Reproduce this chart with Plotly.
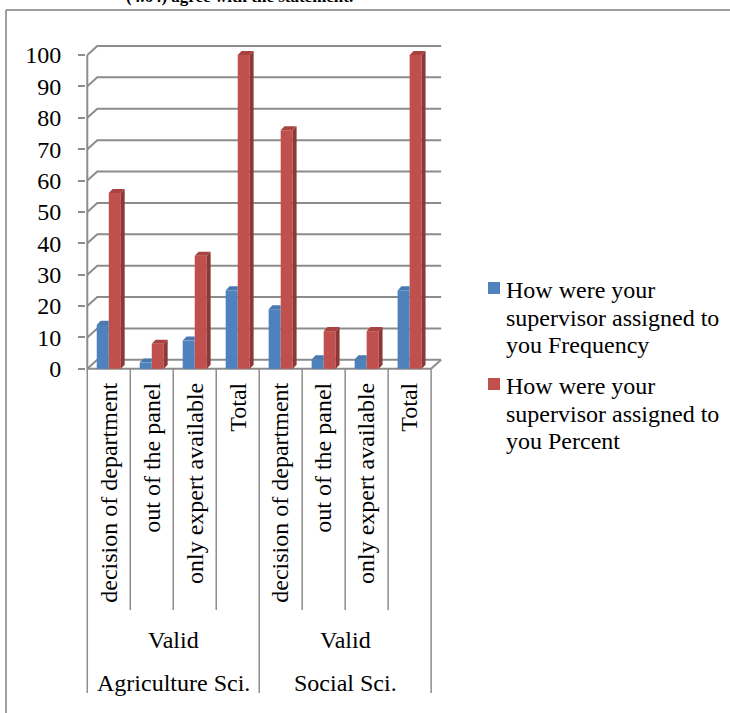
import plotly.graph_objects as go

# ---- data -------------------------------------------------------------
groups = ["Agriculture Sci.", "Social Sci."]
sub_group = "Valid"
categories = ["decision of department", "out of the panel", "only expert available", "Total",
              "decision of department", "out of the panel", "only expert available", "Total"]
frequency = [14, 2, 9, 25, 19, 3, 3, 25]
percent = [56, 8, 36, 100, 76, 12, 12, 100]
y_ticks = [0, 10, 20, 30, 40, 50, 60, 70, 80, 90, 100]
series_names = [["How were your", "supervisor assigned to", "you Frequency"],
                ["How were your", "supervisor assigned to", "you Percent"]]
title_text = "(4.64) agree with the statement."

# ---- styling ----------------------------------------------------------
FONT = "Liberation Serif, Times New Roman, serif"
GRID = "#8c8c8c"
front_colors = ["#4F81BD", "#C0504D"]
side_colors = ["#385D8A", "#8C3836"]
top_colors = ["#4A78B0", "#A9433F"]

W, H = 730, 713
ML, MR, MT, MB = 86, 288, 44, 341
PW, PH = W - ML - MR, H - MT - MB

n = len(categories)
wall_dx, wall_dy = 0.233, 2.87       # depth of the back wall (data units)
bar_dx, bar_dy = 0.09, 1.3            # depth of each bar
x_range = [-0.53, n - 0.5 + wall_dx + 0.02]
y_range = [-1, 103.5]
bargap = 0.44
bar_w = (1 - bargap) / 2


def px_x(px):
    return (px - ML) / PW


def px_y(py):
    return (H - MB - py) / PH


def xpaper(xd):
    return (xd - x_range[0]) / (x_range[1] - x_range[0])


xs = list(range(n))
fig = go.Figure()
for k, (vals, name) in enumerate(zip([frequency, percent], series_names)):
    fig.add_trace(go.Bar(
        x=xs, y=vals, name=" ".join(name),
        marker=dict(color=front_colors[k], line=dict(width=0)),
    ))

shapes = []
# back wall gridlines with the diagonal run from the front axis
for v in y_ticks:
    shapes.append(dict(
        type="path", xref="x", yref="y", layer="below",
        path=f"M {-0.5},{v} L {-0.5 + wall_dx},{v + wall_dy} L {n - 0.5 + wall_dx},{v + wall_dy}",
        line=dict(color=GRID, width=2),
    ))
# front axis line and floor edges
shapes.append(dict(type="line", xref="x", yref="y", layer="below",
                   x0=-0.5, y0=0, x1=-0.5, y1=100, line=dict(color=GRID, width=2)))
shapes.append(dict(type="line", xref="x", yref="y", layer="below",
                   x0=-0.5, y0=0, x1=n - 0.5, y1=0, line=dict(color=GRID, width=2)))
shapes.append(dict(type="line", xref="x", yref="y", layer="below",
                   x0=n - 0.5, y0=0, x1=n - 0.5 + wall_dx, y1=wall_dy, line=dict(color=GRID, width=2)))

# 3D side and top faces of the bars
for k, vals in enumerate([frequency, percent]):
    off = (k - 0.5) * bar_w
    for i, v in enumerate(vals):
        xl = i + off - bar_w / 2
        xr = i + off + bar_w / 2
        if k == 1:
            shapes.append(dict(
                type="path", xref="x", yref="y", layer="above",
                path=f"M {xr},{0} L {xr + bar_dx},{bar_dy} L {xr + bar_dx},{v + bar_dy} L {xr},{v} Z",
                fillcolor=side_colors[k], line=dict(width=0)))
            shapes.append(dict(
                type="path", xref="x", yref="y", layer="above",
                path=f"M {xl},{v} L {xl + bar_dx},{v + bar_dy} L {xr + bar_dx},{v + bar_dy} L {xr},{v} Z",
                fillcolor=top_colors[k], line=dict(width=0)))
        else:
            shapes.append(dict(
                type="path", xref="x", yref="y", layer="above",
                path=f"M {xl},{v} L {xl + bar_dx},{v + bar_dy} L {xr},{v + bar_dy} L {xr},{v} Z",
                fillcolor=top_colors[k], line=dict(width=0)))

# category table dividers below the axis
y_top = (0 - y_range[0]) / (y_range[1] - y_range[0])
for b in range(n + 1):
    is_group = b % 4 == 0
    shapes.append(dict(
        type="line", xref="paper", yref="paper",
        x0=xpaper(b - 0.5), x1=xpaper(b - 0.5),
        y0=y_top, y1=px_y(693) if is_group else px_y(610),
        line=dict(color=GRID, width=1.5)))

# outer frame
shapes.append(dict(type="line", xref="paper", yref="paper",
                   x0=px_x(6), y0=px_y(10), x1=px_x(6), y1=px_y(H + 5),
                   line=dict(color="#7f7f7f", width=1.5)))
shapes.append(dict(type="line", xref="paper", yref="paper",
                   x0=px_x(6), y0=px_y(10), x1=px_x(W + 5), y1=px_y(10),
                   line=dict(color="#7f7f7f", width=1.5)))

annotations = []
for g, name in enumerate(groups):
    xc = g * 4 + 1.5
    annotations.append(dict(x=xc, y=px_y(640), xref="x", yref="paper", text=sub_group,
                            showarrow=False, font=dict(family=FONT, size=24, color="black"),
                            xanchor="center", yanchor="middle"))
    annotations.append(dict(x=xc, y=px_y(683), xref="x", yref="paper", text=name,
                            showarrow=False, font=dict(family=FONT, size=24, color="black"),
                            xanchor="center", yanchor="middle"))
annotations.append(dict(x=px_x(239), y=px_y(8), xref="paper", yref="paper", text=f"<b>{title_text}</b>",
                        showarrow=False, font=dict(family=FONT, size=17, color="black"),
                        xanchor="center", yanchor="bottom"))

# legend: colour key squares with line-by-line labels
legend_tops = [282, 378]
line_step = 27.5
for k, lines in enumerate(series_names):
    top = legend_tops[k]
    shapes.append(dict(type="rect", xref="paper", yref="paper",
                       x0=px_x(488), x1=px_x(500), y0=px_y(top), y1=px_y(top + 12),
                       fillcolor=front_colors[k], line=dict(width=0)))
    for j, line in enumerate(lines):
        annotations.append(dict(x=px_x(504), y=px_y(top + 8 + j * line_step), xref="paper", yref="paper",
                                text=line, showarrow=False, xanchor="left", yanchor="middle",
                                font=dict(family=FONT, size=24, color="black")))

fig.update_layout(
    width=W, height=H,
    margin=dict(l=ML, r=MR, t=MT, b=MB),
    paper_bgcolor="white", plot_bgcolor="white",
    barmode="group", bargap=bargap, bargroupgap=0,
    font=dict(family=FONT, size=24, color="black"),
    xaxis=dict(range=x_range, tickmode="array", tickvals=xs, ticktext=categories,
               tickangle=-90, showgrid=False, zeroline=False, showline=False, ticks="",
               ticklabelstandoff=5, tickfont=dict(family=FONT, size=24, color="black")),
    yaxis=dict(range=y_range, tickmode="array", tickvals=y_ticks, showgrid=False, zeroline=False,
               showline=False, ticks="outside", ticklen=7, tickwidth=2, tickcolor=GRID,
               ticklabelstandoff=12, tickfont=dict(family=FONT, size=24, color="black")),
    showlegend=False,
    shapes=shapes,
    annotations=annotations,
)

fig.write_html("out.html")
